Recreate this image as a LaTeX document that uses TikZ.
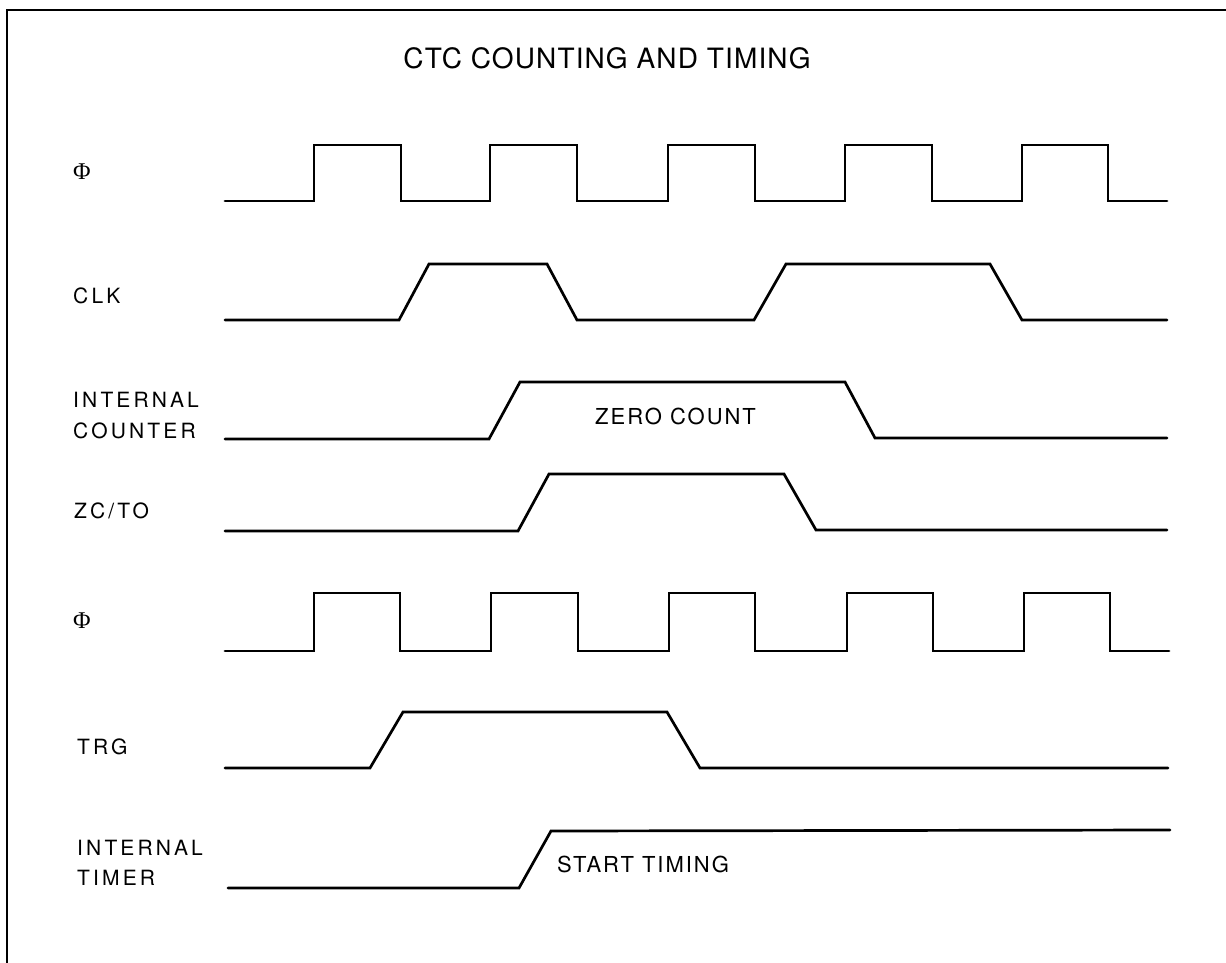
\documentclass[tikz,border=0pt]{standalone}
\usepackage{fontspec}
\setmainfont{TeX Gyre Heros}
\newfontfamily\lblfont[LetterSpace=15]{TeX Gyre Heros}
\newfontfamily\notefont[LetterSpace=9]{TeX Gyre Heros}
\newfontfamily\titlefont[LetterSpace=4]{TeX Gyre Heros}
\newfontfamily\phifont{Liberation Serif}
\begin{document}
\begin{tikzpicture}[x=1pt,y=-1pt,
  wave/.style={line width=2.7pt,line join=miter,line cap=round,black},
  frameline/.style={line width=1.4pt,black},
  lbl/.style={anchor=base west,inner sep=0pt,font=\lblfont\fontsize{21}{24}\selectfont},
  philbl/.style={anchor=base west,inner sep=0pt,font=\phifont\fontsize{24}{26}\selectfont},
  note/.style={anchor=base west,inner sep=0pt,font=\notefont\fontsize{22}{26}\selectfont},
  ttl/.style={anchor=base,inner sep=0pt,font=\titlefont\fontsize{28}{32}\selectfont}]
\useasboundingbox (0,0) rectangle (1226,963);
% frame
\draw[frameline] (7,963) -- (7,10);
\draw[line width=2.2pt] (6,10) -- (1226,10);
% title
\node[ttl] (title) at (607,69) {CTC COUNTING AND TIMING};
% labels
\node[philbl] (lphi1) at (73,179) {Φ};
\node[lbl] (lclk) at (73,303) {CLK};
\node[lbl] (lic1) at (73,407) {INTERNAL};
\node[lbl] (lic2) at (73,438) {COUNTER};
\node[lbl] (lzc) at (74,518) {ZC/TO};
\node[philbl] (lphi2) at (73,628) {Φ};
\node[lbl] (ltrg) at (77,754) {TRG};
\node[lbl] (lit1) at (77,855) {INTERNAL};
\node[lbl] (lit2) at (77,885) {TIMER};
\node[note] (zc) at (595,424) {ZERO COUNT};
\node[note] (st) at (557,872) {START TIMING};
% Phi 1
\draw[wave] (225,201) -- (314,201) -- (314,145) -- (401,145) -- (401,201)
  -- (490,201) -- (490,145) -- (577,145) -- (577,201)
  -- (668,201) -- (668,145) -- (755,145) -- (755,201)
  -- (845,201) -- (845,145) -- (932,145) -- (932,201)
  -- (1022,201) -- (1022,145) -- (1108,145) -- (1108,201) -- (1167,201);
% CLK
\draw[wave] (225,320) -- (399,320) -- (429,264) -- (547,264) -- (577,320)
  -- (754,320) -- (786,264) -- (990,264) -- (1022,320) -- (1167,320);
% Internal counter
\draw[wave] (225,439) -- (489,439) -- (520,382) -- (845,382) -- (875,438) -- (1167,438);
% ZC/TO
\draw[wave] (225,531) -- (518,531) -- (549,474) -- (784,474) -- (816,530) -- (1167,530);
% Phi 2
\draw[wave] (225,651) -- (314,651) -- (314,593) -- (400,593) -- (400,651)
  -- (491,651) -- (491,593) -- (578,593) -- (578,651)
  -- (669,651) -- (669,593) -- (755,593) -- (755,651)
  -- (847,651) -- (847,593) -- (933,593) -- (933,651)
  -- (1024,651) -- (1024,593) -- (1110,593) -- (1110,651) -- (1169,651);
% TRG
\draw[wave] (225,768) -- (370,768) -- (403,712) -- (667,712) -- (700,768) -- (1168,768);
% Internal timer
\draw[wave] (228,888) -- (519,888) -- (551,831) -- (1170,830);
\end{tikzpicture}
\end{document}
